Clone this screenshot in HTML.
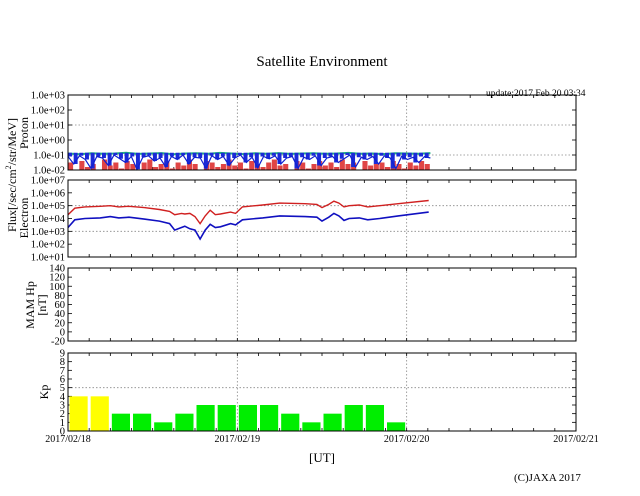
<!DOCTYPE html>
<html><head><meta charset="utf-8">
<style>
html,body{margin:0;padding:0;background:#fff;}
svg{display:block;font-family:"Liberation Serif",serif;}
</style></head>
<body>
<svg id="chart" width="640" height="496" viewBox="0 0 640 496" xmlns="http://www.w3.org/2000/svg">
<text x="322" y="66" font-size="15" text-anchor="middle">Satellite Environment</text>
<text x="486" y="96" font-size="9.5">update:2017 Feb 20 03:34</text>
<text transform="translate(16,175) rotate(-90)" font-size="12" text-anchor="middle">Flux[/sec/cm<tspan font-size="8" dy="-5">2</tspan><tspan dy="5">/str/MeV]</tspan></text>
<text transform="translate(28,133) rotate(-90)" font-size="12" text-anchor="middle">Proton</text>
<text transform="translate(28,218) rotate(-90)" font-size="12" text-anchor="middle">Electron</text>
<text transform="translate(34,305) rotate(-90)" font-size="12" text-anchor="middle">MAM Hp</text>
<text transform="translate(46,305) rotate(-90)" font-size="12" text-anchor="middle">[nT]</text>
<text transform="translate(48,392) rotate(-90)" font-size="12" text-anchor="middle">Kp</text>
<text x="322" y="462" font-size="13" text-anchor="middle">[UT]</text>
<text x="514" y="481" font-size="11">(C)JAXA 2017</text>
<g id="plots"></g>
</svg>
<script>
// ---- data ----
const dayLabels = ["2017/02/18","2017/02/19","2017/02/20","2017/02/21"];
const protonTicks = ["1.0e-02","1.0e-01","1.0e+00","1.0e+01","1.0e+02","1.0e+03"];
const electronTicks = ["1.0e+01","1.0e+02","1.0e+03","1.0e+04","1.0e+05","1.0e+06","1.0e+07"];
const mamTicks = [-20,0,20,40,60,80,100,120,140];
const kpTicks = [0,1,2,3,4,5,6,7,8,9];
// Kp per 3-hour interval
const kpValues = [4,4,2,2,1,2,3,3,3,3,2,1,2,3,3,1];
// Electron flux, log10, times in days
const electronTimes = [0,0.04,0.1,0.19,0.25,0.3,0.36,0.45,0.54,0.6,0.63,0.67,0.69,0.72,0.75,0.78,0.81,0.84,0.87,0.9,0.96,0.99,1.03,1.15,1.25,1.4,1.47,1.5,1.54,1.57,1.6,1.63,1.66,1.72,1.77,1.84,1.95,2.13];
const electronRed = [4.3,4.8,4.9,4.95,5.0,4.9,4.95,4.85,4.7,4.55,4.3,4.4,4.35,4.4,4.15,3.6,4.2,4.65,4.3,4.35,4.5,4.4,4.9,5.05,5.2,5.15,5.1,4.85,5.1,5.35,5.2,4.9,5.0,5.05,4.9,5.0,5.15,5.4];
const electronBlue = [3.3,3.9,4.0,4.05,4.15,4.05,4.1,3.95,3.8,3.6,3.1,3.3,3.4,3.2,3.1,2.4,3.1,3.55,3.3,3.35,3.6,3.5,3.9,4.05,4.2,4.15,4.1,3.8,4.1,4.4,4.2,3.85,4.0,4.05,3.9,4.0,4.2,4.5];
// Proton flux, log10, evenly spaced over 0..2.14 days
const protonGreen = [-0.9,-0.95,-0.88,-0.92,-0.9,-0.85,-0.93,-0.9,-0.87,-0.95,-0.9,-0.88,-0.92,-0.86,-0.9,-0.94,-0.89,-0.91,-0.87,-0.93,-0.9,-0.88,-0.92,-0.9,-0.86,-0.91,-0.9,-0.94,-0.88,-0.9,-0.92,-0.87];
const protonBlue = [-1.1,-1.6,-1.05,-1.3,-1.9,-1.1,-1.2,-1.7,-1.0,-1.25,-1.5,-1.1,-1.95,-1.15,-1.05,-1.4,-1.2,-1.8,-1.1,-1.3,-1.0,-1.6,-1.15,-1.2,-1.9,-1.05,-1.3,-1.1,-1.7,-1.2,-1.0,-1.5,-1.15,-1.85,-1.1,-1.25,-1.05,-1.6,-1.2,-1.1,-1.9,-1.15,-1.3,-1.05,-1.7,-1.2,-1.1,-1.5,-1.25,-1.0,-1.8,-1.15,-1.3,-1.1,-1.6,-1.05,-1.2,-1.9,-1.1,-1.3,-1.15,-1.5,-1.1,-1.2];
const protonRed = [-1.5,-2,-1.4,-1.8,-1.6,-2,-1.3,-1.7,-1.5,-1.9,-1.4,-1.6,-2,-1.5,-1.3,-1.8,-1.6,-1.4,-1.9,-1.5,-1.7,-1.3,-1.6,-2,-1.4,-1.5,-1.8,-1.6,-1.3,-1.7,-1.5,-1.9,-1.4,-1.6,-1.8,-1.5,-1.3,-1.7,-1.6,-2,-1.4,-1.5,-1.9,-1.6,-1.4,-1.7,-1.5,-1.8,-1.3,-1.6,-1.5,-2,-1.4,-1.7,-1.6,-1.5,-1.8,-1.4,-1.6,-1.9,-1.5,-1.7,-1.4,-1.6];
const protonEnd = 2.14;

// ---- layout ----
const NS="http://www.w3.org/2000/svg";
const g=document.getElementById('plots');
const X0=68,X1=576,DAYS=3;
const xs=t=>X0+(X1-X0)*t/DAYS;
function mk(tag,attrs,parent){const e=document.createElementNS(NS,tag);for(const k in attrs)e.setAttribute(k,attrs[k]);(parent||g).appendChild(e);return e;}
function lin(y0,y1,v0,v1){return v=>y1-(v-v0)*(y1-y0)/(v1-v0);}

function panel(name,top,bot,ticks,ys,tickVals,gridVals){
  const grp=mk('g',{});
  
  
  [1,2].forEach(d=>{const l=mk('line',{x1:xs(d),x2:xs(d),y1:top,y2:bot,stroke:'#888','stroke-width':0.8,'stroke-dasharray':'1.5,2'},grp);
    });
  gridVals.forEach(v=>{const l=mk('line',{x1:X0,x2:X1,y1:ys(v),y2:ys(v),stroke:'#888','stroke-width':0.8,'stroke-dasharray':'1.5,2'},grp);
    });
  ticks.forEach((lab,i)=>{const y=ys(tickVals[i]);
    const t=mk('text',{x:X0-3,y:y+3.5,'font-size':10.5,'text-anchor':'end'},grp);t.textContent=lab;
    
    mk('line',{x1:X0,x2:X0+4,y1:y,y2:y,stroke:'#000','stroke-width':0.8},grp);
    mk('line',{x1:X1-4,x2:X1,y1:y,y2:y,stroke:'#000','stroke-width':0.8},grp);
  });
  for(let h=0;h<=24;h++){const x=xs(h/8);
    mk('line',{x1:x,x2:x,y1:top,y2:top+3,stroke:'#000','stroke-width':0.8},grp);
    mk('line',{x1:x,x2:x,y1:bot-3,y2:bot,stroke:'#000','stroke-width':0.8},grp);}
  const plot=mk('g',{},grp);
  const fr=mk('rect',{x:X0,y:top,width:X1-X0,height:bot-top,fill:'none',stroke:'#000','stroke-width':1},grp);
  
  return plot;
}
function poly(parent,times,vals,ys,color,name,w){
  const pts=times.map((t,i)=>xs(t).toFixed(1)+','+ys(vals[i]).toFixed(1)).join(' ');
  const p=mk('polyline',{points:pts,fill:'none',stroke:color,'stroke-width':w||1.2},parent);
  
}

// proton
const ysP=lin(95,170,-2,3);
const pP=panel('proton',95,170,protonTicks,ysP,[-2,-1,0,1,2,3],[1,-1]);
const stepR=protonEnd/protonRed.length;
protonRed.forEach((v,i)=>{const r=mk('rect',{x:xs(i*stepR),y:ysP(v),width:(xs(stepR)-X0)*0.9,height:170-ysP(v),fill:'#e04545'},pP);
  });
poly(pP,protonGreen.map((_,i)=>i*protonEnd/(protonGreen.length-1)),protonGreen,ysP,'#20b080','proton-green-line',2);
const stepB=protonEnd/protonBlue.length;
protonBlue.forEach((v,i)=>{const r=mk('rect',{x:xs(i*stepB),y:ysP(-0.85),width:(xs(stepB)-X0)*0.7,height:ysP(v)-ysP(-0.85),fill:'#1a2ad8'},pP);
  });
poly(pP,protonBlue.map((_,i)=>i*protonEnd/(protonBlue.length-1)),protonBlue,ysP,'#1020d0','proton-blue-line',1.2);

// electron
const ysE=lin(180,257,1,7);
const pE=panel('electron',180,257,electronTicks,ysE,[1,2,3,4,5,6,7],[3,5]);
poly(pE,electronTimes,electronRed,ysE,'#d02020','electron-red-line',1.4);
poly(pE,electronTimes,electronBlue,ysE,'#1010c0','electron-blue-line',1.6);

// MAM
const ysM=lin(268,341,-20,140);
panel('mam-hp',268,341,mamTicks.map(String),ysM,mamTicks,[]);

// Kp
const ysK=lin(353,431,0,9);
const pK=panel('kp',353,431,kpTicks.map(String),ysK,kpTicks,[5]);
kpValues.forEach((v,i)=>{const x=xs(i/8);const w=xs(1/8)-X0;
  const r=mk('rect',{x:x+1.5,y:ysK(v),width:w-3,height:431-ysK(v),fill:v>=4?'#ffff00':'#00ee00'},pK);
  });

// x labels
dayLabels.forEach((d,i)=>{const t=mk('text',{x:xs(i),y:442,'font-size':10,'text-anchor':'middle'});t.textContent=d;
  });
</script>
</body></html>
